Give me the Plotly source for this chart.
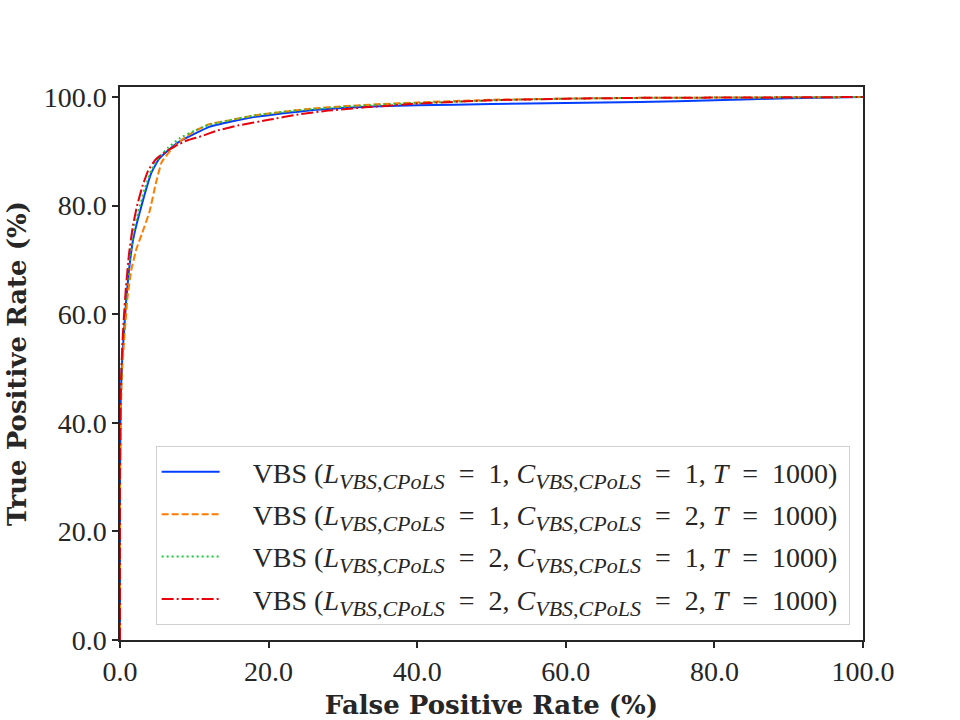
import plotly.graph_objects as go

# ---- data ----
tick_vals = [0, 20, 40, 60, 80, 100]
tick_text = ["0.0", "20.0", "40.0", "60.0", "80.0", "100.0"]

fpr_a = [0, 0, 0.1, 0.3, 0.5, 0.8, 1.2, 1.8, 2.5, 3.3, 4.2, 5.2, 6.5, 8, 10, 12, 15, 18, 22, 26, 30, 35, 40, 50, 60, 70, 80, 90, 100]
tpr_a = [0, 30, 45, 52, 56, 62, 68, 74, 78, 82, 86, 88.5, 90.2, 91.8, 93.2, 94.5, 95.5, 96.3, 97, 97.6, 98, 98.3, 98.5, 98.7, 98.9, 99.1, 99.4, 99.8, 100]

fpr_b = [0, 0, 0.1, 0.3, 0.6, 1.0, 1.5, 2.2, 3.0, 4.0, 4.8, 5.6, 7, 8.5, 10, 12, 15, 18, 22, 26, 30, 35, 40, 50, 60, 70, 80, 90, 100]
tpr_b = [0, 28, 42, 50, 56, 63, 68, 72, 75, 79, 84, 88, 90.5, 92.3, 93.7, 95, 95.8, 96.6, 97.3, 97.9, 98.3, 98.7, 99, 99.5, 99.7, 99.85, 99.9, 99.95, 100]

fpr_c = [0, 0, 0.1, 0.3, 0.5, 0.8, 1.2, 1.8, 2.5, 3.3, 4.2, 5.2, 6.5, 8, 10, 12, 15, 18, 22, 26, 30, 35, 40, 50, 60, 70, 80, 90, 100]
tpr_c = [0, 30, 45, 53, 57, 63, 69, 75, 79, 83, 86.5, 88.8, 90.7, 92.4, 93.8, 94.9, 95.8, 96.6, 97.3, 97.8, 98.2, 98.6, 98.9, 99.4, 99.7, 99.85, 99.9, 99.95, 100]

fpr_d = [0, 0, 0.1, 0.3, 0.5, 0.8, 1.2, 1.7, 2.3, 3.0, 3.8, 4.8, 6, 7.5, 9, 11, 13, 16, 20, 24, 28, 33, 40, 50, 60, 70, 80, 90, 100]
tpr_d = [0, 32, 46, 54, 59, 65, 71, 76, 80, 83.5, 86.5, 88.5, 89.8, 91, 92, 92.8, 93.8, 94.8, 95.8, 96.8, 97.5, 98.1, 98.8, 99.4, 99.7, 99.85, 99.9, 99.95, 100]

L_vals = [1, 1, 2, 2]
C_vals = [1, 2, 1, 2]
T_val = 1000

colors = ["#023eff", "#ff7c00", "#1ac938", "#e8000b"]
dashes = ["solid", "7px,3px", "2px,3px", "12px,3px,2px,3px"]

series = [(fpr_a, tpr_a), (fpr_b, tpr_b), (fpr_c, tpr_c), (fpr_d, tpr_d)]

SUB = '<sub><span style="font-size:22px"><i>VBS,CPoLS</i></span></sub>'
EQ = "\u2002=\u2002"


def label(l, c):
    return (f"\u2003VBS (<i>L</i>{SUB}{EQ}{l}, <i>C</i>{SUB}{EQ}{c}, "
            f"<i>T</i>{EQ}{T_val})\u2009")


FONT = "Liberation Serif"
TITLE_FONT = "DejaVu Serif"
INK = "#262626"

fig = go.Figure()
for i, ((x, y), c, d) in enumerate(zip(series, colors, dashes)):
    fig.add_trace(go.Scatter(x=x, y=y, mode="lines", name=label(L_vals[i], C_vals[i]),
                             legendgroup=f"g{i}",
                             line=dict(color=c, width=2, dash=d, shape="spline", smoothing=0.3)))

axis_common = dict(showgrid=False, zeroline=False, showline=True, linecolor=INK,
                   linewidth=1.5, mirror=True, ticks="outside", ticklen=6, tickwidth=1.5,
                   tickcolor=INK, tickvals=tick_vals, ticktext=tick_text, automargin=False,
                   tickfont=dict(family=FONT, size=28, color=INK))

fig.update_layout(
    width=960, height=720,
    margin=dict(l=120, r=97, t=87, b=80),
    plot_bgcolor="white", paper_bgcolor="white",
    font=dict(family=FONT, color=INK),
    xaxis=dict(range=[0, 100], title=dict(text="<b>False Positive Rate (%)</b>",
                                          font=dict(family=TITLE_FONT, size=26, color=INK), standoff=14),
               **axis_common),
    yaxis=dict(range=[0, 101.85], title=dict(text="<b>True Positive Rate (%)</b>",
                                             font=dict(family=TITLE_FONT, size=26, color=INK), standoff=10),
               **axis_common),
    legend=dict(x=0.982, y=0.027, xanchor="right", yanchor="bottom",
                bordercolor="#d0d0d0", borderwidth=1, bgcolor="rgba(255,255,255,0.8)",
                font=dict(family=FONT, size=28, color=INK), tracegroupgap=3,
                itemwidth=58),
    showlegend=True,
)

fig.write_html("out.html")
